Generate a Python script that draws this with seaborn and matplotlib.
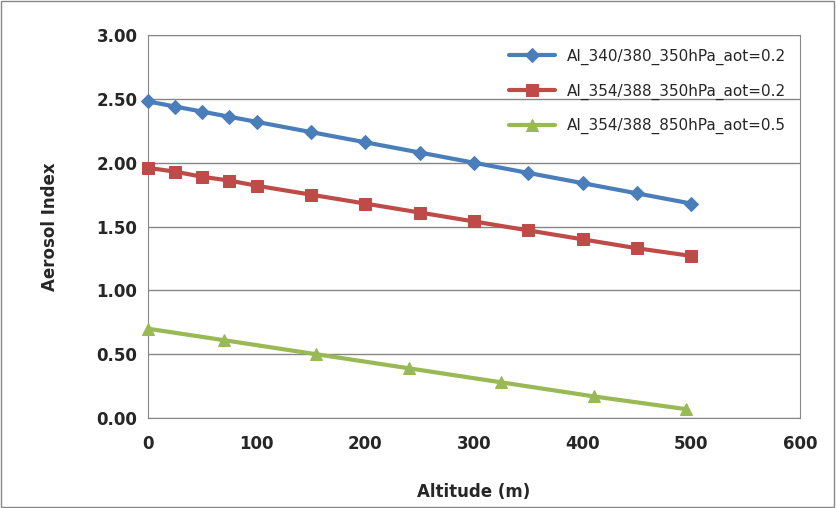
import matplotlib
matplotlib.use("Agg")
import matplotlib.pyplot as plt
import seaborn as sns
import pandas as pd

x_ab = [0, 25, 50, 75, 100, 150, 200, 250, 300, 350, 400, 450, 500]
blue = [2.48, 2.44, 2.40, 2.36, 2.32, 2.24, 2.16, 2.08, 2.00, 1.92, 1.84, 1.76, 1.68]
red = [1.96, 1.93, 1.89, 1.86, 1.82, 1.75, 1.68, 1.61, 1.54, 1.47, 1.40, 1.33, 1.27]
x_g = [0, 70, 155, 240, 325, 410, 495]
green = [0.70, 0.61, 0.50, 0.39, 0.28, 0.17, 0.07]
labels = ["AI_340/380_350hPa_aot=0.2", "AI_354/388_350hPa_aot=0.2", "AI_354/388_850hPa_aot=0.5"]

sns.set_style("white")
plt.rcParams['font.family'] = ['DejaVu Sans']
fig = plt.figure(figsize=(8.36, 5.08), dpi=100)
ax = fig.add_axes([0.177, 0.177, 0.78, 0.754])
fig.patches.append(plt.Rectangle((0.001, 0.001), 0.997, 0.997, transform=fig.transFigure,
                                 fill=False, edgecolor="#888888", lw=1))

specs = [(x_ab, blue, "#4A7EBB", "D", 7), (x_ab, red, "#BE4B48", "s", 8), (x_g, green, "#98B954", "^", 9)]
for (xs, ys, c, m, ms), lab in zip(specs, labels):
    df = pd.DataFrame({"x": xs, "y": ys})
    sns.lineplot(data=df, x="x", y="y", ax=ax, color=c, marker=m, markersize=ms,
                 markeredgecolor=c, lw=3, label=lab, clip_on=False, zorder=3)

ax.set_xlim(0, 600)
ax.set_ylim(0, 3)
ax.set_xticks(range(0, 601, 100))
ax.set_yticks([i * 0.5 for i in range(7)])
ax.set_yticklabels([f"{i*0.5:.2f}" for i in range(7)])
ax.yaxis.grid(True, color="#868686", lw=1)
for s in ax.spines.values():
    s.set_color("#868686")
ax.tick_params(labelsize=12, direction="out", length=4, color="#868686")
ax.tick_params(axis="x", pad=8)
for t in ax.get_xticklabels() + ax.get_yticklabels():
    t.set_fontweight("bold")
ax.set_xlabel("Altitude (m)", fontsize=12, fontweight="bold", labelpad=22)
ax.set_ylabel("Aerosol Index", fontsize=12, fontweight="bold", labelpad=27)
ax.legend(loc="upper right", frameon=False, fontsize=11, handlelength=3,
          labelspacing=1.2, bbox_to_anchor=(1.0, 1.0))
fig.savefig("out.png", dpi=100)
